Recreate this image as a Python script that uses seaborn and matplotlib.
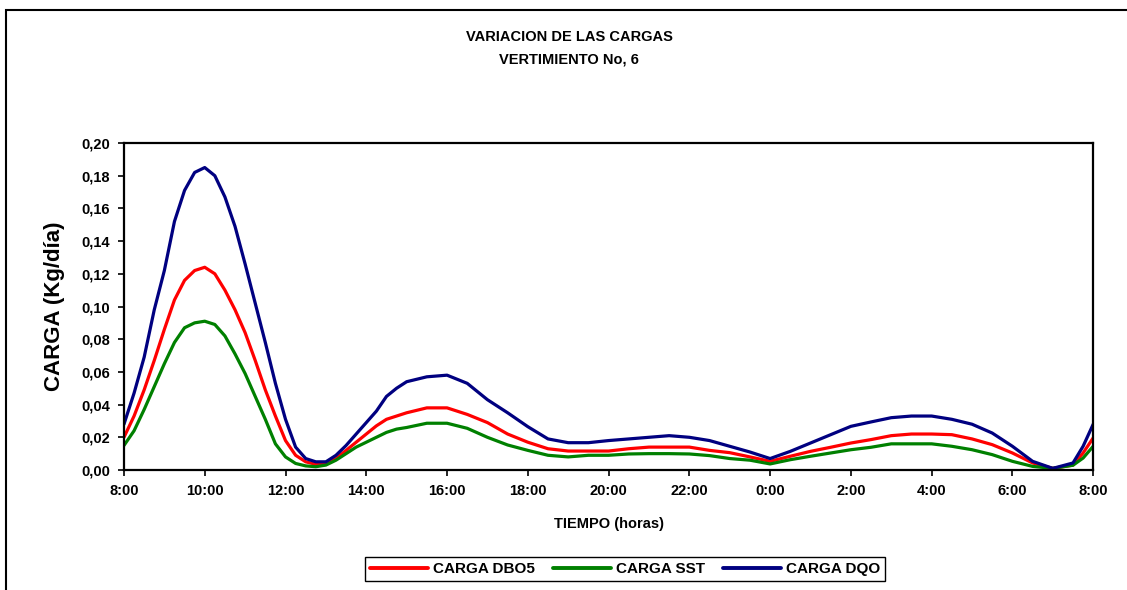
import pandas as pd
import matplotlib
matplotlib.use("Agg")
import matplotlib.pyplot as plt
import seaborn as sns
from matplotlib.patches import Rectangle
from matplotlib.ticker import FuncFormatter

# hours elapsed since 8:00
hours = [0, 0.25, 0.5, 0.75, 1.0, 1.25, 1.5, 1.75, 2.0, 2.25, 2.5, 2.75, 3.0, 3.25,
         3.5, 3.75, 4.0, 4.25, 4.5, 4.75, 5.0, 5.25, 5.5, 5.75, 6.0, 6.25, 6.5, 6.75,
         7.0, 7.5, 8.0, 8.5, 9.0, 9.5, 10.0, 10.5, 11.0, 11.5, 12.0, 12.5, 13.0, 13.5,
         14.0, 14.5, 15.0, 15.5, 16.0, 16.5, 17.0, 17.5, 18.0, 18.5, 19.0, 19.5, 20.0,
         20.5, 21.0, 21.5, 22.0, 22.5, 23.0, 23.5, 23.75, 24.0]

carga_dbo5 = [0.020, 0.033, 0.049, 0.067, 0.086, 0.104, 0.116, 0.122, 0.124, 0.120,
              0.110, 0.098, 0.084, 0.067, 0.049, 0.033, 0.018, 0.009, 0.005, 0.0035,
              0.0035, 0.007, 0.012, 0.017, 0.022, 0.027, 0.031, 0.033, 0.035, 0.038,
              0.038, 0.034, 0.029, 0.022, 0.017, 0.013, 0.0116, 0.0116, 0.0116, 0.013,
              0.014, 0.014, 0.014, 0.012, 0.0106, 0.008, 0.0053, 0.0084, 0.0114, 0.0139,
              0.0165, 0.0186, 0.021, 0.022, 0.022, 0.0216, 0.019, 0.0155, 0.0104, 0.0043,
              0.001, 0.003, 0.0104, 0.0196]

carga_sst = [0.015, 0.024, 0.037, 0.051, 0.065, 0.078, 0.087, 0.090, 0.091, 0.089,
             0.082, 0.071, 0.059, 0.045, 0.031, 0.016, 0.008, 0.004, 0.0025, 0.002,
             0.003, 0.006, 0.010, 0.014, 0.017, 0.020, 0.023, 0.025, 0.026, 0.0286,
             0.0286, 0.0255, 0.020, 0.0153, 0.012, 0.009, 0.008, 0.009, 0.009, 0.0098,
             0.010, 0.010, 0.0098, 0.0088, 0.007, 0.006, 0.0037, 0.0063, 0.0084, 0.0104,
             0.0124, 0.0139, 0.016, 0.016, 0.016, 0.0145, 0.0124, 0.0094, 0.0053, 0.0022,
             0.001, 0.0029, 0.0073, 0.0145]

carga_dqo = [0.028, 0.047, 0.069, 0.098, 0.122, 0.152, 0.171, 0.182, 0.185, 0.180,
             0.167, 0.149, 0.126, 0.102, 0.078, 0.053, 0.031, 0.014, 0.007, 0.005,
             0.005, 0.009, 0.015, 0.022, 0.029, 0.036, 0.045, 0.050, 0.054, 0.057,
             0.058, 0.053, 0.043, 0.035, 0.0265, 0.019, 0.0167, 0.0167, 0.018, 0.019,
             0.020, 0.021, 0.020, 0.018, 0.0145, 0.011, 0.007, 0.0114, 0.0165, 0.0216,
             0.0267, 0.0294, 0.032, 0.033, 0.033, 0.031, 0.028, 0.0226, 0.0145, 0.0053,
             0.001, 0.0043, 0.0145, 0.028]

series_names = ["CARGA DBO5", "CARGA SST", "CARGA DQO"]
series_colors = ["#ff0000", "#008000", "#000080"]

tick_hours = list(range(0, 25, 2))
tick_labels = [f"{(8 + h) % 24}:00" for h in tick_hours]

df = pd.concat([
    pd.DataFrame({"hora": hours, "carga": vals, "serie": name})
    for name, vals in zip(series_names, [carga_dbo5, carga_sst, carga_dqo])
])

sns.set_theme(style="white")
plt.rcParams['font.family'] = ['Liberation Sans', 'DejaVu Sans']
plt.rcParams['font.weight'] = 'bold'
plt.rcParams['text.color'] = 'black'
plt.rcParams['axes.labelcolor'] = 'black'
plt.rcParams['xtick.color'] = 'black'
plt.rcParams['ytick.color'] = 'black'

fig = plt.figure(figsize=(11.27, 5.9), dpi=100)
ax = fig.add_axes([0.110, 0.2034, 0.860, 0.5542])

sns.lineplot(data=df, x="hora", y="carga", hue="serie", hue_order=series_names,
             palette=series_colors, linewidth=2.3, ax=ax, sort=False)

ax.set_xlim(0, 24)
ax.set_ylim(0, 0.20)
ax.set_xticks(tick_hours)
ax.set_xticklabels(tick_labels)
ax.set_yticks([i * 0.02 for i in range(11)])
ax.yaxis.set_major_formatter(FuncFormatter(lambda v, p: f"{v:.2f}".replace('.', ',')))
ax.tick_params(axis='both', direction='out', length=4, width=1.2, colors='black',
               labelsize=10.5, left=True, bottom=True, pad=6)
for lab in ax.get_xticklabels() + ax.get_yticklabels():
    lab.set_fontweight('bold')

for sp in ax.spines.values():
    sp.set_color('black')
    sp.set_linewidth(1.6)

ax.set_xlabel("TIEMPO (horas)", fontsize=10.5, fontweight='bold', labelpad=14,
              color='black')
ax.set_ylabel("CARGA (Kg/día)", fontsize=16, fontweight='bold', labelpad=12,
              color='black')

fig.text(0.505, 0.937, "VARIACION DE LAS CARGAS", ha='center', va='center',
         fontsize=10.5, fontweight='bold', color='black')
fig.text(0.505, 0.900, "VERTIMIENTO No, 6", ha='center', va='center',
         fontsize=10.5, fontweight='bold', color='black')

handles, labels = ax.get_legend_handles_labels()
ax.get_legend().remove()
leg = fig.legend(handles, labels, loc='center', bbox_to_anchor=(0.5546, 0.0356),
                 ncol=3, frameon=True, fancybox=False, edgecolor='black',
                 framealpha=1, handlelength=3.8, columnspacing=1.2,
                 borderpad=0.35, handletextpad=0.3,
                 prop={'weight': 'bold', 'size': 11})
leg.get_frame().set_linewidth(1.0)
for text in leg.get_texts():
    text.set_color('black')
for line in leg.get_lines():
    line.set_linewidth(2.8)

fig.patches.append(Rectangle((6 / 1127, -0.2), 1.2, 1.2 - 10 / 590,
                             transform=fig.transFigure, fill=False,
                             edgecolor='black', linewidth=1.5))

fig.savefig("out.png", dpi=100)
